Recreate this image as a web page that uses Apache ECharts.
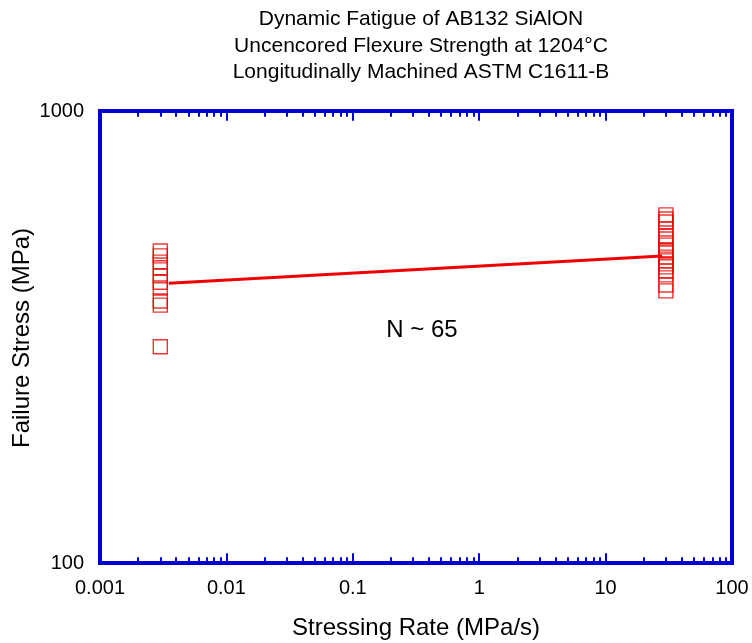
<!DOCTYPE html>
<html><head><meta charset="utf-8">
<script src="https://cdn.jsdelivr.net/npm/echarts@6/dist/echarts.min.js"></script>
<style>html,body{margin:0;padding:0;background:#fff}#c{width:752px;height:643px}</style>
</head><body><div id="c"></div>
<script>
const titleLines = ['Dynamic Fatigue of AB132 SiAlON', 'Uncencored Flexure Strength at 1204°C', 'Longitudinally Machined ASTM C1611-B'];
const xAxisTitle = 'Stressing Rate (MPa/s)';
const yAxisTitle = 'Failure Stress (MPa)';
const annotation = 'N ~ 65';
const majorTicks = [0.001, 0.01, 0.1, 1, 10, 100];
const minorTicks = [
  0.002,0.003,0.004,0.005,0.006,0.007,0.008,0.009,
  0.02,0.03,0.04,0.05,0.06,0.07,0.08,0.09,
  0.2,0.3,0.4,0.5,0.6,0.7,0.8,0.9,
  2,3,4,5,6,7,8,9,
  20,30,40,50,60,70,80,90
];
const yTicks = [100, 1000];
const rateLow = 0.003;
const rateHigh = 30;
const stressLow = [490, 478, 463, 450, 432, 418, 406, 380, 372, 301];
const stressHigh = [589, 577, 568, 548, 529, 521, 505, 492, 488, 475, 466, 459, 452, 443, 434, 412, 400];
const fitRates = [0.0035, 28];
const fitStress = [416, 478];

const BLUE = '#0000d2';
const RED = '#ee0000';
const FONT = 'Liberation Sans, Arial, sans-serif';

const chart = echarts.init(document.getElementById('c'), null, {renderer: 'canvas'});

function fmt(v) { return String(Number(Number(v).toPrecision(3))); }

function xAxisDef(position, showLine, ticks, tickLen, showLabel) {
  return {
    type: 'log', logBase: 10, min: 0.001, max: 100, position: position, gridIndex: 0,
    axisLine: {show: showLine, onZero: false, lineStyle: {color: BLUE, width: 4, cap: 'square'}},
    axisTick: {show: true, inside: true, length: tickLen, customValues: ticks, lineStyle: {color: BLUE, width: 2, cap: 'round'}},
    minorTick: {show: false},
    splitLine: {show: false},
    axisLabel: showLabel ? {show: true, customValues: majorTicks, formatter: fmt, color: '#000', fontSize: 20, fontFamily: FONT, margin: 15} : {show: false}
  };
}

const option = {
  animation: false,
  backgroundColor: '#fff',
  grid: {left: 100, right: 20, top: 111, bottom: 80, containLabel: false, outerBoundsMode: 'none'},
  xAxis: [
    xAxisDef('bottom', true, majorTicks, 9, true),
    xAxisDef('bottom', false, minorTicks, 5, false),
    xAxisDef('top', true, majorTicks, 9, false),
    xAxisDef('top', false, minorTicks, 5, false)
  ],
  yAxis: [
    {
      type: 'log', logBase: 10, min: 100, max: 1000, position: 'left',
      axisLine: {show: true, onZero: false, lineStyle: {color: BLUE, width: 4, cap: 'square'}},
      axisTick: {show: false}, minorTick: {show: false}, splitLine: {show: false},
      axisLabel: {show: true, customValues: yTicks, formatter: fmt, color: '#000', fontSize: 20, fontFamily: FONT, margin: 16, padding: [0, 0, 6, 0]}
    },
    {
      type: 'log', logBase: 10, min: 100, max: 1000, position: 'right',
      axisLine: {show: true, onZero: false, lineStyle: {color: BLUE, width: 4, cap: 'square'}},
      axisTick: {show: false}, minorTick: {show: false}, splitLine: {show: false},
      axisLabel: {show: false}
    }
  ],
  series: [
    {
      type: 'line', xAxisIndex: 0, yAxisIndex: 0,
      data: fitRates.map((r, i) => [r, fitStress[i]]),
      symbol: 'none', lineStyle: {color: RED, width: 3}, z: 3
    },
    {
      type: 'scatter', xAxisIndex: 0, yAxisIndex: 0,
      data: stressLow.map(s => [rateLow, s]).concat(stressHigh.map(s => [rateHigh, s])),
      symbol: 'rect', symbolSize: 14,
      itemStyle: {color: 'rgba(255,255,255,0)', borderColor: RED, borderWidth: 1.4}, z: 4
    }
  ],
  graphic: [
    {type: 'text', x: 421, y: 19, style: {text: titleLines[0], font: '21px ' + FONT, fill: '#000', textAlign: 'center', textVerticalAlign: 'middle'}},
    {type: 'text', x: 421, y: 46, style: {text: titleLines[1], font: '21px ' + FONT, fill: '#000', textAlign: 'center', textVerticalAlign: 'middle'}},
    {type: 'text', x: 421, y: 72, style: {text: titleLines[2], font: '21px ' + FONT, fill: '#000', textAlign: 'center', textVerticalAlign: 'middle'}},
    {type: 'text', x: 416, y: 628, style: {text: xAxisTitle, font: '24px ' + FONT, fill: '#000', textAlign: 'center', textVerticalAlign: 'middle'}},
    {type: 'text', x: 22, y: 338, rotation: Math.PI / 2, style: {text: yAxisTitle, font: '24px ' + FONT, fill: '#000', textAlign: 'center', textVerticalAlign: 'middle'}},
    {type: 'text', x: 422, y: 330, style: {text: annotation, font: '24px ' + FONT, fill: '#000', textAlign: 'center', textVerticalAlign: 'middle'}}
  ]
};
chart.setOption(option);
</script>
</body></html>
